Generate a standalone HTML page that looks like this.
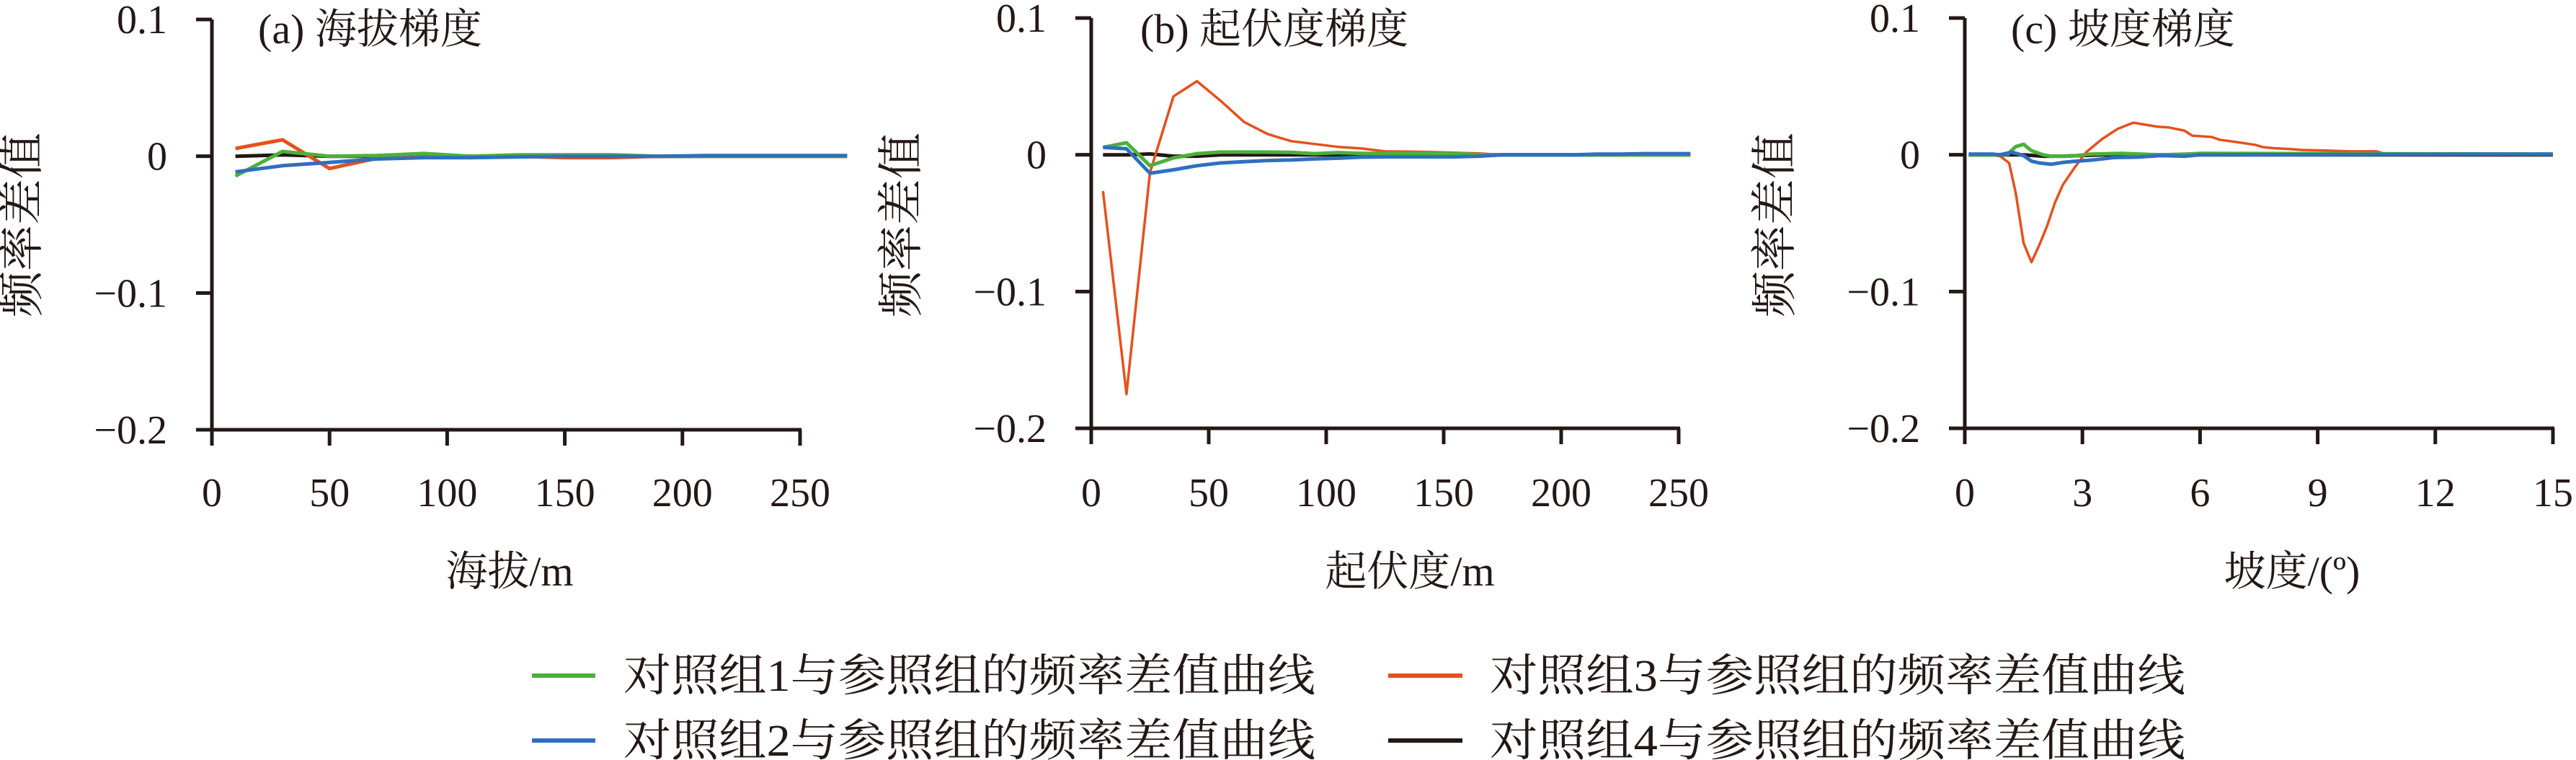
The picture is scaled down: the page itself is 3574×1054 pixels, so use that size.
<!DOCTYPE html>
<html><head><meta charset="utf-8">
<style>
html,body{margin:0;padding:0;background:#fff;}
svg{display:block;}
text{fill:#231815;}
.tk{font-family:"Liberation Serif","Noto Serif CJK SC",serif;font-size:56px;}
.cj{font-family:"Liberation Serif","Noto Serif CJK SC",serif;}
</style></head>
<body>
<svg id="chart" width="3574" height="1054" viewBox="0 0 3574 1054" xmlns="http://www.w3.org/2000/svg">
<g id="panels"></g>
<g id="legend">
  <line x1="738" y1="937" x2="826" y2="937" stroke="#4cb03a" stroke-width="6"/>
  <text class="cj" x="865" y="958" font-size="62" textLength="960" lengthAdjust="spacingAndGlyphs">对照组1与参照组的频率差值曲线</text>
  <line x1="1926" y1="937" x2="2029" y2="937" stroke="#e5511c" stroke-width="6"/>
  <text class="cj" x="2067" y="958" font-size="62" textLength="965" lengthAdjust="spacingAndGlyphs">对照组3与参照组的频率差值曲线</text>
  <line x1="738" y1="1027" x2="826" y2="1027" stroke="#2f6fbd" stroke-width="6"/>
  <text class="cj" x="865" y="1048" font-size="62" textLength="960" lengthAdjust="spacingAndGlyphs">对照组2与参照组的频率差值曲线</text>
  <line x1="1926" y1="1027" x2="2029" y2="1027" stroke="#231815" stroke-width="6"/>
  <text class="cj" x="2067" y="1048" font-size="62" textLength="965" lengthAdjust="spacingAndGlyphs">对照组4与参照组的频率差值曲线</text>
</g>
</svg>
<script>
// ---- Data ----
const yTicks = [0.1, 0, -0.1, -0.2];
const yTickLabels = ["0.1", "0", "\u22120.1", "\u22120.2"];

// Panel (a) elevation
const aX = [10,30,50,70,90,110,130,150,170,190,210,230,250,270];
const aG1 = [-0.0145,0.0035,0,0.0005,0.002,0,0.001,0.001,0.001,0,0,0,0,0];
const aG2 = [-0.0114,-0.0069,-0.0045,-0.002,-0.001,-0.001,-0.0005,0,0,0,0.0005,0.0005,0.0005,0.0005];
const aG3 = [0.0057,0.012,-0.009,-0.0015,0,0,0,-0.001,-0.001,0,0,0,0,0];
const aG4 = [0,0.001,0,0,0,0,0,0,0,0,0,0,0,0];
const aTicks = [0,50,100,150,200,250];

// Panel (b) relief
const bX = [5,15,25,35,45,55,65,75,85,95,105,115,125,135,145,155,165,175,185,195,205,215,225,235,245,255];
const bG1 = [0.0054,0.0088,-0.008,-0.0023,0.0008,0.002,0.002,0.002,0.0018,0.0008,0.0016,0.001,0.001,0.001,0.001,0.001,0,0,0,0,0,0,0,0,0,0];
const bG2 = [0.0054,0.0044,-0.0135,-0.011,-0.008,-0.006,-0.005,-0.0042,-0.0038,-0.003,-0.0025,-0.0017,-0.0015,-0.0015,-0.0015,-0.0015,-0.001,0,0,0,0,0.0005,0.0005,0.0008,0.0008,0.0008];
const bG3 = [-0.0265,-0.175,-0.013,0.0427,0.0538,0.0396,0.024,0.0152,0.01,0.0079,0.0058,0.0046,0.0025,0.0023,0.002,0.0015,0.001,0,0,0,0,0,0,0,0,0];
const bG4 = [0,0,0.0006,-0.001,-0.001,0,0,0,0,0,0,0,0,0,0,0,0,0,0,0,0,0,0,0,0,0];
const bTicks = [0,50,100,150,200,250];

// Panel (c) slope
const cX3 = [0.1,0.7,0.9,1.13,1.3,1.5,1.7,1.9,2.1,2.3,2.5,2.8,3.1,3.5,3.9,4.3,4.6,4.9,5.2,5.6,5.8,6.3,6.5,6.9,7.4,7.6,7.9,8.3,8.6,9.2,9.8,10.5,10.8];
const cG3 = [0,0,-0.001,-0.006,-0.028,-0.0646,-0.0785,-0.066,-0.052,-0.035,-0.022,-0.0094,0.002,0.0115,0.019,0.0235,0.022,0.0206,0.02,0.0177,0.014,0.013,0.011,0.0094,0.0073,0.0056,0.0048,0.0042,0.0035,0.0031,0.0025,0.0025,0];
const cX1 = [0.1,0.8,1.1,1.3,1.5,1.7,2.0,2.2,2.7,3.2,4.0,5.0,5.6,6.0,15.0];
const cG1 = [0,0,0.0005,0.006,0.0077,0.003,0,-0.001,-0.001,0.0005,0.001,0,0.0005,0.001,0.0005];
const cX2 = [0.1,0.7,0.9,1.2,1.5,1.7,1.9,2.2,2.5,2.8,3.3,3.8,4.4,5.0,5.6,6.0,15.0];
const cG2 = [0.0005,0.0005,0,0.002,-0.0006,-0.0046,-0.006,-0.0069,-0.0056,-0.0048,-0.0037,-0.002,-0.0017,-0.0006,-0.001,0,0.0005];
const cX4 = [0.1,1.5,2.0,2.5,3.0,3.5,15.0];
const cG4 = [0,0,-0.001,-0.001,-0.0005,0,0];
const cTicks = [0,3,6,9,12,15];

const COL = {g1:"#4cb03a", g2:"#2f6fbd", g3:"#e5511c", g4:"#231815"};
const NS = "http://www.w3.org/2000/svg";
const root = document.getElementById('panels');

function mk(tag, attrs, parent){
  const e = document.createElementNS(NS, tag);
  for (const k in attrs) e.setAttribute(k, attrs[k]);
  parent.appendChild(e);
  return e;
}

function panel(cfg){
  const g = mk('g', {}, root);
  
  
  const xs = v => cfg.x0 + (v - cfg.xmin) / (cfg.xmax - cfg.xmin) * (cfg.x1 - cfg.x0);
  const ys = v => cfg.yTop + (0.1 - v) / 0.3 * (cfg.yBot - cfg.yTop);
  // y axis
  const ya = mk('line', {x1:cfg.x0, y1:ys(0.1), x2:cfg.x0, y2:ys(-0.2), stroke:"#231815","stroke-width":5}, g);
  
  
  yTicks.forEach((t,i)=>{
    const tl = mk('line', {x1:cfg.x0-22, y1:ys(t), x2:cfg.x0, y2:ys(t), stroke:"#231815","stroke-width":5}, g);
    
    
    const tx = mk('text', {x:cfg.x0-62, y:ys(t)+19, "text-anchor":"end", "class":"tk"}, g);
    
    
    tx.textContent = yTickLabels[i];
  });
  // x axis
  const xa = mk('line', {x1:cfg.x0-22, y1:ys(-0.2), x2:cfg.x1+2, y2:ys(-0.2), stroke:"#231815","stroke-width":5}, g);
  
  
  cfg.ticks.forEach(t=>{
    const tl = mk('line', {x1:xs(t), y1:ys(-0.2), x2:xs(t), y2:ys(-0.2)+22, stroke:"#231815","stroke-width":5}, g);
    
    
    const tx = mk('text', {x:xs(t), y:702, "text-anchor":"middle", "class":"tk"}, g);
    
    
    tx.textContent = String(t);
  });
  // titles
  const ti = mk('text', {x:cfg.titleX, y:60, "class":"cj", "font-size":58}, g);
  
  
  ti.textContent = cfg.title;
  const xt = mk('text', {x:cfg.xTitleX, y:812, "class":"cj", "font-size":58, "text-anchor":"middle"}, g);
  
  
  xt.textContent = cfg.xTitle;
  const yt = mk('text', {x:0, y:0, "class":"cj", "font-size":64, "text-anchor":"middle", transform:`translate(${cfg.yTitleX},312) rotate(-90)`}, g);
  
  
  yt.textContent = "频率差值";
  // series
  cfg.series.forEach(s=>{
    const pts = s.x.map((xv,i)=> xs(xv).toFixed(1)+','+ys(s.y[i]).toFixed(1)).join(' ');
    const pl = mk('polyline', {points:pts, fill:"none", stroke:s.c, "stroke-width":s.w, "stroke-linejoin":"round"}, g);
    
    
  });
}

panel({key:'elevation', x0:294, x1:1110, xmin:0, xmax:250, yTop:27, yBot:596, ticks:aTicks,
  title:"(a) 海拔梯度", titleX:358, xTitle:"海拔/m", xTitleX:707, yTitleX:52,
  series:[
    {name:'line-group4', x:aX, y:aG4, c:COL.g4, w:5},
    {name:'line-group3', x:aX, y:aG3, c:COL.g3, w:5},
    {name:'line-group1', x:aX, y:aG1, c:COL.g1, w:5},
    {name:'line-group2', x:aX, y:aG2, c:COL.g2, w:5}
  ]});
panel({key:'relief', x0:1514, x1:2329, xmin:0, xmax:250, yTop:25, yBot:594, ticks:bTicks,
  title:"(b) 起伏度梯度", titleX:1582, xTitle:"起伏度/m", xTitleX:1956, yTitleX:1272,
  series:[
    {name:'line-group4', x:bX, y:bG4, c:COL.g4, w:5},
    {name:'line-group3', x:bX, y:bG3, c:COL.g3, w:3.5},
    {name:'line-group1', x:bX, y:bG1, c:COL.g1, w:5},
    {name:'line-group2', x:bX, y:bG2, c:COL.g2, w:5}
  ]});
panel({key:'slope', x0:2726, x1:3542, xmin:0, xmax:15, yTop:25, yBot:594, ticks:cTicks,
  title:"(c) 坡度梯度", titleX:2790, xTitle:"坡度/(º)", xTitleX:3180, yTitleX:2484,
  series:[
    {name:'line-group4', x:cX4, y:cG4, c:COL.g4, w:5},
    {name:'line-group3', x:cX3, y:cG3, c:COL.g3, w:3.5},
    {name:'line-group1', x:cX1, y:cG1, c:COL.g1, w:5},
    {name:'line-group2', x:cX2, y:cG2, c:COL.g2, w:5}
  ]});
</script>
</body></html>
